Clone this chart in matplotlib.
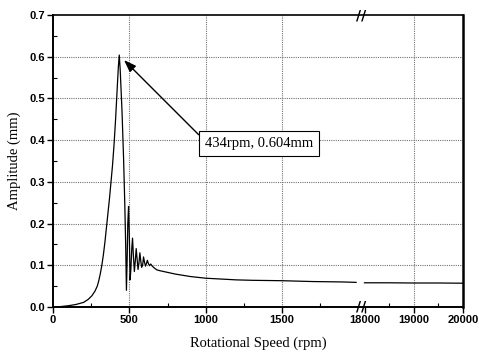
import matplotlib
matplotlib.use("Agg")
import matplotlib.pyplot as plt
import matplotlib.transforms as mtransforms
import numpy as np

# --- data ------------------------------------------------------------------
rpm_low = [0, 50, 100, 150, 200, 230, 255, 275, 290, 300, 310, 320, 330, 340,
           350, 360, 370, 380, 390, 400, 410, 420, 428, 434, 440, 452, 462,
           470, 476, 481, 486, 490, 495, 500, 505, 510, 516, 521, 527, 533,
           539, 545, 551, 557, 563, 569, 575, 581, 587, 593, 599, 606, 612,
           618, 625, 632, 640, 650, 665, 680, 700, 750, 800, 850, 900, 1000,
           1100, 1200, 1300, 1400, 1500, 1600, 1700, 1800, 1900, 1985]
amp_low = [0.0, 0.001, 0.003, 0.006, 0.011, 0.018, 0.027, 0.038, 0.050, 0.063,
           0.080, 0.100, 0.125, 0.155, 0.190, 0.225, 0.260, 0.300, 0.340,
           0.390, 0.450, 0.520, 0.575, 0.604, 0.570, 0.470, 0.360, 0.250,
           0.150, 0.040, 0.120, 0.200, 0.241, 0.170, 0.065, 0.090, 0.140,
           0.165, 0.120, 0.085, 0.110, 0.140, 0.115, 0.090, 0.105, 0.130,
           0.110, 0.095, 0.100, 0.120, 0.108, 0.098, 0.104, 0.112, 0.104,
           0.099, 0.103, 0.098, 0.093, 0.089, 0.087, 0.083, 0.079, 0.076,
           0.073, 0.069, 0.067, 0.065, 0.064, 0.0635, 0.063, 0.062, 0.061,
           0.0605, 0.060, 0.059]

rpm_high = [18000, 18500, 19000, 19500, 20000]
amp_high = [0.058, 0.058, 0.0575, 0.0575, 0.057]

x_major = [0, 500, 1000, 1500, 18000, 19000, 20000]
x_minor = [250, 750, 1250, 1750, 18500, 19500]
x_grid = [500, 1000, 1500, 19000]
y_grid = [0.1, 0.2, 0.3, 0.4, 0.5, 0.6]

peak_rpm, peak_amp = 434, 0.604
peak_label = "434rpm, 0.604mm"

# --- broken x scale: 0-2000 linear, then a small gap, then 18000-20000 ---------
LOW_END, HIGH_START, GAP, K = 2000.0, 18000.0, 40.0, 0.3225


def fwd(x):
    x = np.asarray(x, dtype=float)
    mid = LOW_END + (x - LOW_END) * GAP / (HIGH_START - LOW_END)
    high = LOW_END + GAP + (x - HIGH_START) * K
    return np.where(x <= LOW_END, x, np.where(x < HIGH_START, mid, high))


def inv(u):
    u = np.asarray(u, dtype=float)
    mid = LOW_END + (u - LOW_END) * (HIGH_START - LOW_END) / GAP
    high = HIGH_START + (u - LOW_END - GAP) / K
    return np.where(u <= LOW_END, u, np.where(u < LOW_END + GAP, mid, high))


serif = "Liberation Serif"
sans = "Liberation Sans"

fig = plt.figure(figsize=(4.79, 3.54), dpi=100)
ax = fig.add_axes([0.1106, 0.1328, 0.8560, 0.8248])
ax.set_xscale("function", functions=(fwd, inv))
ax.set_xlim(0, 20000)
ax.set_ylim(0, 0.7)

for xv in x_grid:
    ax.axvline(xv, color="0.45", lw=0.8, ls=(0, (1, 1)), zorder=0)
for yv in y_grid:
    ax.axhline(yv, color="0.45", lw=0.8, ls=(0, (1, 1)), zorder=0)

ax.plot(rpm_low, amp_low, color="black", lw=0.9)
ax.plot(rpm_high, amp_high, color="black", lw=0.9)

ax.set_xticks(x_major)
ax.set_xticks(x_minor, minor=True)
ax.set_xticklabels([str(v) for v in x_major])
ax.set_yticks(np.arange(0, 0.71, 0.1))
ax.set_yticks(np.arange(0.05, 0.7, 0.1), minor=True)
ax.set_yticklabels([f"{v:.1f}" for v in np.arange(0, 0.71, 0.1)])
ax.tick_params(which="major", direction="out", length=4, width=1, pad=2)
ax.tick_params(which="minor", direction="in", length=3, width=0.8)
for lab in ax.get_xticklabels() + ax.get_yticklabels():
    lab.set_fontfamily(sans)
    lab.set_fontweight("bold")
    lab.set_fontsize(8)

for side, lw in [("left", 1.4), ("bottom", 1.4), ("top", 1.2), ("right", 1.8)]:
    ax.spines[side].set_linewidth(lw)

ax.set_xlabel("Rotational Speed (rpm)", fontfamily=serif, fontsize=10.5, labelpad=8)
ax.set_ylabel("Amplitude (mm)", fontfamily=serif, fontsize=10.5, labelpad=6)

# break marks on the top and bottom spines
brk = float(inv(LOW_END + GAP / 2))
trans = mtransforms.blended_transform_factory(ax.transData, ax.transAxes)
for yy in (0.0, 1.0):
    ax.text(brk, yy, "//", transform=trans, ha="center", va="center",
            fontsize=10, fontweight="bold", clip_on=False)

ax.annotate(
    peak_label,
    xy=(465, 0.592),
    xytext=(1349, 0.392),
    ha="center",
    va="center",
    fontfamily=serif,
    fontsize=10.5,
    bbox=dict(boxstyle="square,pad=0.4", fc="white", ec="black", lw=0.8),
    arrowprops=dict(arrowstyle="-|>,head_length=0.7,head_width=0.25",
                    color="black", lw=1.0, relpos=(0.0, 0.7), shrinkA=0, shrinkB=0),
)

fig.savefig("out.png", dpi=100)
